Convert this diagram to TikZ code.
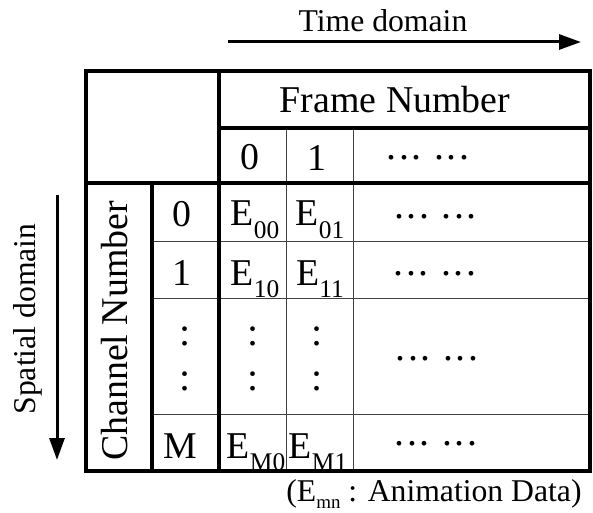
\documentclass[tikz,border=0pt]{standalone}
\usepackage{fontspec}
\setmainfont{Liberation Serif}
\usetikzlibrary{arrows.meta}
% letter E with a lowered index
\newcommand\Esub[1]{E\raisebox{-12bp}{\fontsize{25.5}{26}\selectfont #1}}
% two groups of three evenly spaced dots
\newcommand\onedot{\makebox[12.5bp]{.}}
\newcommand\hdots{\onedot\onedot\onedot\hspace{10.2bp}\onedot\onedot\onedot}
\begin{document}
\begin{tikzpicture}[x=1bp,y=-1bp,
  thickrule/.style={line width=3.5bp, line cap=rect, line join=miter},
  thinrule/.style={line width=1bp, draw=black!75},
  big/.style={inner sep=0pt, anchor=base, font=\fontsize{38}{40}\selectfont},
  small/.style={inner sep=0pt, anchor=base, font=\fontsize{31.8}{34}\selectfont},
  dotrow/.style={inner sep=0pt, anchor=base, font=\fontsize{40}{42}\selectfont},
  domainarrow/.style={line width=3bp, -{Triangle[length=22bp,width=15bp]}}]
\useasboundingbox (0,0) rectangle (593,513);

% domain arrows
\coordinate (tA) at (228,42);
\coordinate (tB) at (581,42);
\coordinate (sA) at (57,195);
\coordinate (sB) at (57,460);
\draw[domainarrow] (tA) -- (tB);
\draw[domainarrow] (sA) -- (sB);
\node[small] (timelabel) at (383,32) {Time domain};
\node[small, rotate=90] (spacelabel) at (35,319) {Spatial domain};

% thin grid lines
\draw[thinrule] (152,241) -- (590,241);
\draw[thinrule] (152,298) -- (590,298);
\draw[thinrule] (152,414) -- (590,414);
\draw[thinrule] (286,128) -- (286,471);
\draw[thinrule] (353,128) -- (353,471);

% thick rules and frame
\draw[thickrule] (86,71) rectangle (590,471);
\draw[thickrule] (219,128) -- (590,128);
\draw[thickrule] (86,183) -- (590,183);
\draw[thickrule] (219,71) -- (219,471);
\draw[thickrule] (152,183) -- (152,471);

% header
\node[big] (framelabel) at (395,113) {Frame Number};
\node[big] (f0) at (250,170) {0};
\node[big] (f1) at (317,171) {1};
\node[dotrow] (fdots) at (428,160) {\hdots};

% channel labels
\node[big, rotate=90] (chanlabel) at (127,331) {Channel Number};
\node[big] (c0) at (182,227) {0};
\node[big] (c1) at (182,285) {1};
\node[dotrow] (cv1) at (185,345) {:};
\node[dotrow] (cv2) at (185,390) {:};
\node[big] (cM) at (180,458) {M};

% data cells
\node[big] (e00) at (255,226) {\Esub{00}};
\node[big] (e01) at (320,226) {\Esub{01}};
\node[dotrow] (d0) at (435.5,219) {\hdots};
\node[big] (e10) at (255,285) {\Esub{10}};
\node[big] (e11) at (320,285) {\Esub{11}};
\node[dotrow] (d1) at (435,275) {\hdots};
\node[dotrow] (ev01) at (253,345) {:};
\node[dotrow] (ev02) at (253,390) {:};
\node[dotrow] (ev11) at (317,345) {:};
\node[dotrow] (ev12) at (317,390) {:};
\node[dotrow] (dv) at (437,360) {\hdots};
\node[big] (eM0) at (256,458) {\Esub{M0}};
\node[big] (eM1) at (318,458) {\Esub{M1}};
\node[dotrow] (dM) at (436,445) {\hdots};

% legend
\node[small] (note) at (434,501) {(E\raisebox{-7bp}{\fontsize{19}{19}\selectfont mn} : Animation Data)};
\end{tikzpicture}
\end{document}
